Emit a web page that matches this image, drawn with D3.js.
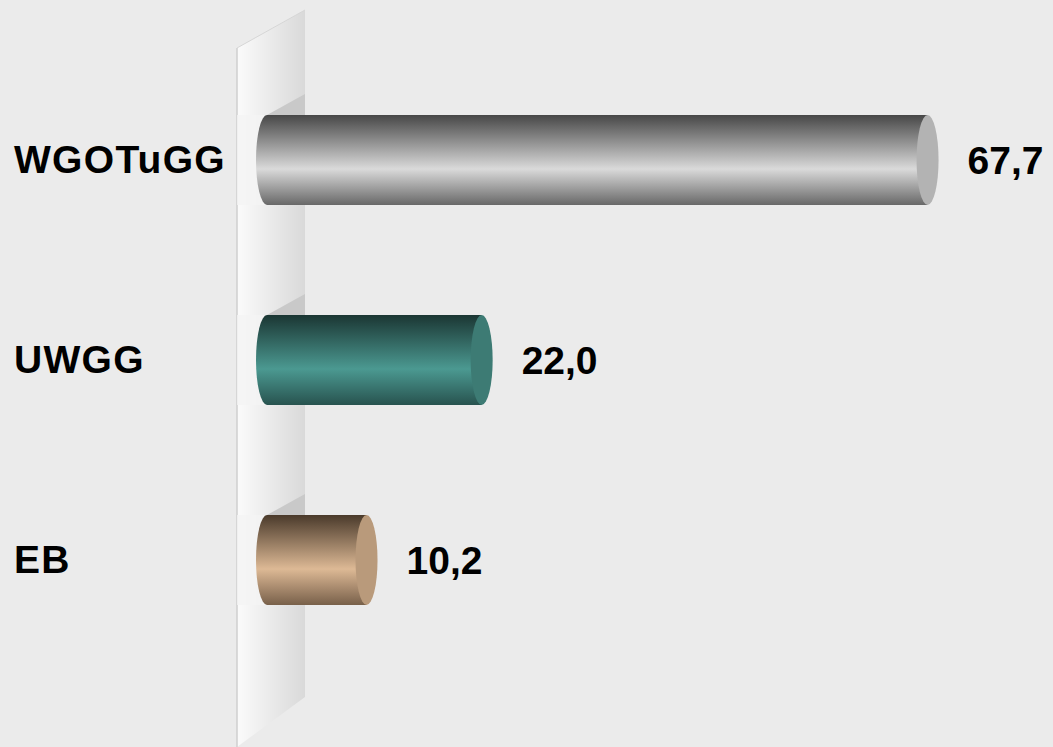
<!DOCTYPE html>
<html>
<head>
<meta charset="utf-8">
<script src="https://cdn.jsdelivr.net/npm/d3@7"></script>
<style>
  html, body { margin: 0; padding: 0; background: #ebebeb; }
  svg { display: block; }
  text { font-family: "Liberation Sans", Arial, sans-serif; font-weight: bold; fill: #000; }
</style>
</head>
<body>
<svg width="1053" height="747"></svg>
<script>
// chart values
let categories = ["WGOTuGG", "UWGG", "EB"]
let values = [67.7, 22.0, 10.2]
let valueLabels = ["67,7", "22,0", "10,2"]
// cylinder colours: top, highlight, bottom, cap
let colors = [
  ["#474747", "#dadada", "#686868", "#b3b3b3"],
  ["#1b3633", "#4b9991", "#28534f", "#3d7b74"],
  ["#4a3a2b", "#ddb995", "#78604a", "#b99a7b"]
]

let svg = d3.select("svg");
let width = +svg.attr("width");
let height = +svg.attr("height");

let x = d3.scaleLinear().domain([0, 70]).range([267, 950]);
let y = d3.scaleBand().domain(categories).range([55, 665]).paddingInner(0.55).paddingOuter(0.3);

let rx = 11;
let depth = 21;
let wallL = 237, wallR = 305;

let defs = svg.append("defs");

let wg = defs.append("linearGradient").attr("id", "wall").attr("x1", 0).attr("x2", 1).attr("y1", 0).attr("y2", 0);
wg.append("stop").attr("offset", 0).attr("stop-color", "#fbfbfb");
wg.append("stop").attr("offset", 1).attr("stop-color", "#d9d9d9");

colors.forEach(function(c, i){
  let g = defs.append("linearGradient").attr("id", "cyl" + i)
    .attr("x1", 0).attr("x2", 0).attr("y1", 0).attr("y2", 1);
  g.append("stop").attr("offset", 0).attr("stop-color", c[0]);
  g.append("stop").attr("offset", 0.6).attr("stop-color", c[1]);
  g.append("stop").attr("offset", 1).attr("stop-color", c[2]);
});

// back wall
svg.append("path")
  .attr("d", "M" + wallL + ",48 L" + wallR + ",10 L" + wallR + ",697 L" + wallL + ",747 Z")
  .attr("fill", "url(#wall)");
svg.append("line")
  .attr("x1", wallL).attr("y1", 48).attr("x2", wallL).attr("y2", 747)
  .attr("stroke", "#cfcfcf").attr("stroke-width", 1.5);
svg.append("line")
  .attr("x1", wallL).attr("y1", 48).attr("x2", wallR).attr("y2", 10)
  .attr("stroke", "#d6d6d6").attr("stroke-width", 1);

let bars = svg.selectAll("g.bar")
  .data(values)
  .enter()
  .append("g")
  .attr("class", "bar");

// light band across the wall
bars.append("rect")
  .attr("x", wallL)
  .attr("y", function(d, i){ return y(categories[i]); })
  .attr("width", function(){ return x(0) - wallL; })
  .attr("height", y.bandwidth())
  .attr("fill", "#f4f4f4")
  .attr("opacity", 0.8);

// depth shadow on the wall
bars.append("path")
  .attr("d", function(d, i){
    let t = y(categories[i]), b = t + y.bandwidth();
    return "M" + x(0) + "," + t + " L" + wallR + "," + (t - depth) +
      " L" + wallR + "," + (b - depth) + " L" + x(0) + "," + b + " Z";
  })
  .attr("fill", "#c9c9c9");

// cylinder body
bars.append("path")
  .attr("d", function(d, i){
    let t = y(categories[i]), h = y.bandwidth(), b = t + h, ry = h / 2;
    let x0 = x(0), x1 = x(d);
    return "M" + x0 + "," + t + " L" + x1 + "," + t +
      " L" + x1 + "," + b + " L" + x0 + "," + b +
      " A" + rx + "," + ry + " 0 0 1 " + x0 + "," + t + " Z";
  })
  .attr("fill", function(d, i){ return "url(#cyl" + i + ")"; });

// end cap
bars.append("ellipse")
  .attr("cx", function(d){ return x(d); })
  .attr("cy", function(d, i){ return y(categories[i]) + y.bandwidth() / 2; })
  .attr("rx", rx)
  .attr("ry", y.bandwidth() / 2)
  .attr("fill", function(d, i){ return colors[i][3]; });

// value labels
bars.append("text")
  .attr("x", function(d){ return x(d) + 40; })
  .attr("y", function(d, i){ return y(categories[i]) + y.bandwidth() / 2 + 14; })
  .attr("font-size", 39)
  .text(function(d, i){ return valueLabels[i]; });

// category labels
svg.selectAll("text.cat")
  .data(categories)
  .enter()
  .append("text")
  .attr("class", "cat")
  .attr("x", 14)
  .attr("y", function(d){ return y(d) + y.bandwidth() / 2 + 13; })
  .attr("font-size", 39)
  .attr("letter-spacing", 1.3)
  .text(function(d){ return d; });
</script>
</body>
</html>
